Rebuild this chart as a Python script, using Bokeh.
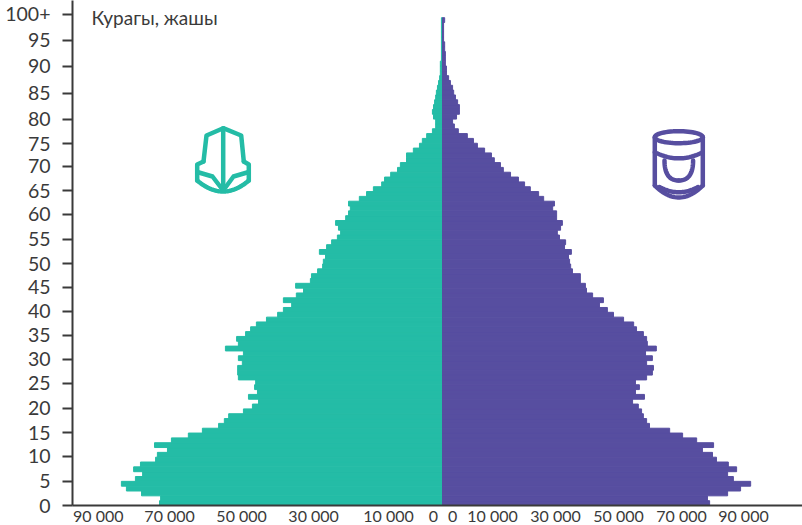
import numpy as np
from bokeh.plotting import figure
from bokeh.models import Range1d, LinearAxis, FixedTicker, Label
from bokeh.embed import file_html
from bokeh.resources import INLINE

ages = list(range(101))
left_values = [78600,78300,83600,87800,89200,85300,83300,85800,83900,79700,79200,76400,80000,75300,70600,66700,62200,60600,59400,55300,
 52800,51100,53900,51400,52200,51900,56700,56900,56900,55600,56700,55300,60300,56700,57200,54700,53300,51700,48900,45800,
 44200,41900,44200,40600,38600,40800,36700,36400,34700,33300,33100,32500,34200,32200,30800,29200,28300,28900,29700,26900,
 26100,25600,26100,23100,21100,19200,16900,16100,14400,12500,11700,10000,10000,8100,6400,5600,4400,2800,1900,1900,
 2500,2800,2500,2200,1900,1700,1400,1100,800,600,600,600,300,300,300,300,300,300,300,300,300]
right_values = [74200,73600,79200,82800,85600,80800,79200,81700,79400,76100,75000,72200,75300,70600,66700,63100,57500,56700,55800,55300,
 54400,52800,56100,53600,54700,53600,56700,58300,58600,56700,58300,56400,59400,56900,56700,55800,53900,53100,50300,47500,
 45800,43600,44700,41700,40000,39700,38300,38300,36100,35600,35300,35000,35800,33900,34200,32500,31900,32800,33300,31700,
 31700,30600,31100,28100,26700,24400,22800,21100,18900,16900,16100,14400,13600,11700,9700,8600,6900,4400,3300,2800,
 3900,4700,4700,4200,3600,3100,2800,2200,1700,1100,1100,800,800,800,600,600,300,300,300,300,600]
y_tick_labels = ["0","5","10","15","20","25","30","35","40","45","50","55","60","65","70","75","80","85","90","95","100+"]
y_tick_places = [0,5.03,10.2,15.1,20.1,25.3,30.3,35.2,40.2,45.2,50.1,55.1,60.3,65.2,70.2,74.9,80,85.4,90.9,96.3,101.7]
x_tick_labels = ["90 000","70 000","50 000","30 000","10 000","0","0","10 000","30 000","50 000","70 000","90 000"]
x_tick_places = [-95600,-75800,-55800,-35800,-15000,-2500,2800,13900,31400,48900,66400,83600]
title_text = "Курагы, жашы"

TEAL = "#24BCA6"
PURPLE = "#574EA0"
INK = "#3A3A3A"
FONT = "Lato"

def dx(px):
    return (np.asarray(px, dtype=float) - 442) / 3.6 * 1000
def dy(py):
    return (505 - np.asarray(py, dtype=float)) / 4.83

p = figure(width=802, height=525, output_backend="svg", toolbar_location=None,
           x_range=Range1d(float(dx(72)), float(dx(802))), y_range=Range1d(0, float(dy(0))),
           x_axis_location=None, y_axis_location=None,
           min_border_left=72, min_border_right=0, min_border_top=0, min_border_bottom=20,
           frame_width=730, frame_height=505, outline_line_color=None, background_fill_color="white")
p.grid.visible = False

ages_mid = np.array(ages) + 0.5
p.hbar(y=ages_mid, left=-np.array(left_values), right=0, height=1.0, color=TEAL, line_color=TEAL, line_width=1)
p.hbar(y=ages_mid, left=0, right=np.array(right_values), height=1.0, color=PURPLE, line_color=PURPLE, line_width=1)

ya = LinearAxis(ticker=FixedTicker(ticks=y_tick_places),
                major_label_overrides=dict(zip(y_tick_places, y_tick_labels)))
ya.axis_line_color = INK; ya.axis_line_width = 2
ya.major_tick_line_color = INK; ya.major_tick_line_width = 2
ya.major_tick_out = 10; ya.major_tick_in = 0; ya.minor_tick_line_color = None
ya.major_label_text_font = FONT; ya.major_label_text_font_size = "19.5px"
ya.major_label_text_color = INK; ya.major_label_standoff = 12
p.add_layout(ya, "left")

xa = LinearAxis(ticker=FixedTicker(ticks=x_tick_places),
                major_label_overrides=dict(zip(x_tick_places, x_tick_labels)))
xa.axis_line_color = INK; xa.axis_line_width = 2
xa.major_tick_line_color = None; xa.minor_tick_line_color = None
xa.major_tick_out = 0; xa.major_tick_in = 0
xa.major_label_text_font = FONT; xa.major_label_text_font_size = "16px"
xa.major_label_text_color = INK; xa.major_label_standoff = 0
p.add_layout(xa, "below")

p.add_layout(Label(x=float(dx(91)), y=float(dy(28)), text=title_text, text_font=FONT,
                   text_font_size="19px", text_color=INK))

def curve(a, b, c, n=30):
    t = np.linspace(0, 1, n)[:, None]
    a, b, c = map(np.array, (a, b, c))
    pts = (1-t)**2*a + 2*t*(1-t)*b + t**2*c
    return pts[:, 0], pts[:, 1]
def stroke(xs, ys, color):
    p.line(dx(xs), dy(ys), line_color=color, line_width=4.5, line_join="round", line_cap="round")

# helmet icon (decoration)
stroke([203,206,222.7,240.7,243.3], [161,135,127.7,135,161], TEAL)
stroke([222.7,222.7], [127.7,190], TEAL)
stroke([203,196.7,196.7], [161,164,180], TEAL)
stroke([243.3,248.3,248.3], [161,164,180], TEAL)
stroke(*curve((196.7,180),(222.7,202),(248.3,180)), TEAL)
stroke([196.7,212,222.7], [171.5,176,190], TEAL)
stroke([248.3,233,222.7], [171.5,176,190], TEAL)

# cap icon (decoration)
t = np.linspace(0, 2*np.pi, 60)
stroke(678.3 + 24*np.cos(t), 136.7 + 6*np.sin(t), PURPLE)
stroke([654.3,654.3], [136.7,185], PURPLE)
stroke([702.3,702.3], [136.7,185], PURPLE)
stroke(*curve((654.3,185),(678.3,209),(702.3,185)), PURPLE)
stroke(*curve((659,186.5),(678.3,197),(697.5,186.5)), PURPLE)
stroke(*curve((654.3,151.7),(678.3,164),(702.3,151.7)), PURPLE)
stroke(*curve((664,160),(664,180),(678.3,180)), PURPLE)
stroke(*curve((692.6,160),(692.6,180),(678.3,180)), PURPLE)

open("out.html", "w").write(file_html(p, INLINE))
